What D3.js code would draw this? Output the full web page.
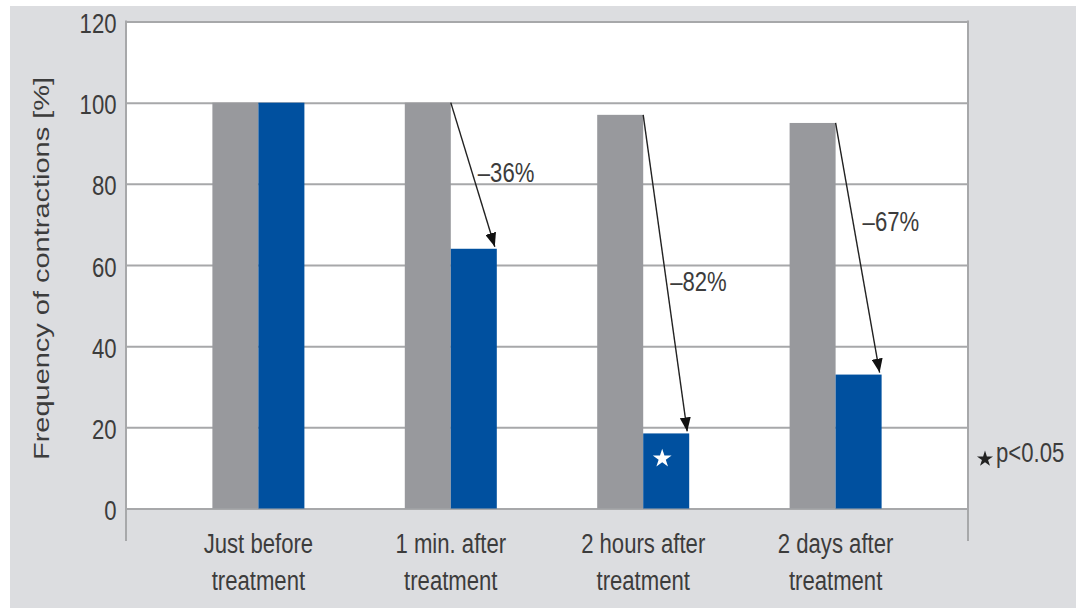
<!DOCTYPE html>
<html>
<head>
<meta charset="utf-8">
<script src="https://cdn.jsdelivr.net/npm/d3@7"></script>
<style>
  html, body { margin: 0; padding: 0; background: #ffffff; }
  svg { display: block; }
  text { font-family: "Liberation Sans", Arial, Helvetica, sans-serif; fill: #3c3c3c; }
</style>
</head>
<body>
<svg id="chart" width="1076" height="608"></svg>
<script>
// ---------------- data ----------------
const categories = ["Just before treatment", "1 min. after treatment", "2 hours after treatment", "2 days after treatment"];
const categoryLines = [["Just before", "treatment"], ["1 min. after", "treatment"], ["2 hours after", "treatment"], ["2 days after", "treatment"]];
const seriesKeys = ["reference", "treated"];
const referenceValues = [100, 100, 97, 95];
const treatedValues = [100, 64, 18.5, 33];
const yTicks = [0, 20, 40, 60, 80, 100, 120];
const yTitle = "Frequency of contractions [%]";
const changeLabels = ["", "–36%", "–82%", "–67%"];
const changeLabelValues = [null, 80.5, 53.5, 68.5];
const significant = [false, false, true, false];
const noteText = "p<0.05";

// ---------------- layout ----------------
const W = 1076, H = 608;
const plot = { left: 126, right: 968, top: 21.5, bottom: 508.5 };
const colors = { reference: "#98999d", treated: "#00509f" };
const gridColor = "#a7a8aa";
const textSX = 0.79;

const svg = d3.select("#chart");

// background panel
svg.append("rect").attr("x", 10).attr("y", 6).attr("width", W - 10).attr("height", H - 6).attr("fill", "#dcdde0");
svg.append("rect").attr("x", plot.left).attr("y", plot.top)
  .attr("width", plot.right - plot.left).attr("height", plot.bottom - plot.top).attr("fill", "#ffffff");

const y = d3.scaleLinear().domain([0, 120]).range([plot.bottom, plot.top]);
const x0 = d3.scaleBand().domain(categories).range([plot.left, plot.right])
  .paddingInner(0.5218).paddingOuter(0.449);
const x1 = d3.scaleBand().domain(seriesKeys).range([0, x0.bandwidth()]).padding(0);

// gridlines via axis
const grid = svg.append("g").attr("transform", `translate(${plot.left},0)`)
  .call(d3.axisLeft(y).tickValues(yTicks).tickSize(-(plot.right - plot.left)).tickFormat(""));
grid.select(".domain").remove();
grid.selectAll("line").attr("stroke", gridColor).attr("stroke-width", 2);

// vertical frame lines (extend below zero)
[plot.left, plot.right].forEach(xx => {
  svg.append("line").attr("x1", xx).attr("x2", xx).attr("y1", plot.top - 1).attr("y2", 541)
    .attr("stroke", gridColor).attr("stroke-width", 2);
});

// y tick labels
const yAxis = svg.append("g").attr("transform", `translate(${plot.left},0)`)
  .call(d3.axisLeft(y).tickValues(yTicks).tickSize(0).tickPadding(0));
yAxis.select(".domain").remove();
yAxis.selectAll("text")
  .attr("x", null).attr("dy", "0.36em")
  .attr("transform", `translate(-9.5,1) scale(${textSX},1)`)
  .attr("text-anchor", "end")
  .style("font-size", "28px").style("fill", "#3c3c3c").style("font-family", null);

// bars
const rows = categories.map((c, i) => ({ cat: c, reference: referenceValues[i], treated: treatedValues[i] }));
const groups = svg.append("g").selectAll("g").data(rows).join("g")
  .attr("transform", d => `translate(${x0(d.cat)},0)`);
groups.selectAll("rect").data(d => seriesKeys.map(k => ({ key: k, value: d[k] }))).join("rect")
  .attr("x", d => x1(d.key))
  .attr("width", x1.bandwidth())
  .attr("y", d => y(d.value))
  .attr("height", d => y(0) - y(d.value))
  .attr("fill", d => colors[d.key]);

// x category labels
const xAxis = svg.append("g").attr("transform", `translate(0,${plot.bottom})`)
  .call(d3.axisBottom(x0).tickSize(0).tickFormat(""));
xAxis.select(".domain").remove();
const catText = svg.append("g").selectAll("text").data(categories).join("text")
  .attr("transform", d => `translate(${x0(d) + x0.bandwidth() / 2},0) scale(${textSX},1)`)
  .attr("text-anchor", "middle")
  .style("font-size", "28px");
catText.each(function (d, i) {
  const t = d3.select(this);
  categoryLines[i].forEach((line, j) => {
    t.append("tspan").attr("x", 0).attr("y", 553 + j * 37).text(line);
  });
});

// y title
svg.append("text")
  .attr("transform", `translate(49,268.5) rotate(-90)`)
  .attr("text-anchor", "middle")
  .attr("textLength", 383)
  .attr("lengthAdjust", "spacingAndGlyphs")
  .style("font-size", "22px")
  .text(yTitle);

// arrows
const defs = svg.append("defs");
defs.append("marker").attr("id", "arrowhead")
  .attr("viewBox", "0 0 14 11").attr("refX", 14).attr("refY", 5.5)
  .attr("markerWidth", 14).attr("markerHeight", 11).attr("markerUnits", "userSpaceOnUse")
  .attr("orient", "auto")
  .append("path").attr("d", "M0,0 L14,5.5 L0,11 Z").attr("fill", "#111");

const ann = svg.append("g");
categories.forEach((c, i) => {
  if (!changeLabels[i]) return;
  const xs = x0(c) + x1("reference") + x1.bandwidth();
  const xe = x0(c) + x1("treated") + x1.bandwidth() - 2;
  ann.append("line")
    .attr("x1", xs).attr("y1", y(referenceValues[i]))
    .attr("x2", xe).attr("y2", y(treatedValues[i]) - 2)
    .attr("stroke", "#222").attr("stroke-width", 1.4)
    .attr("marker-end", "url(#arrowhead)");
  ann.append("text")
    .attr("transform", `translate(${xs + 27},${y(changeLabelValues[i])}) scale(${textSX},1)`)
    .style("font-size", "28px")
    .text(changeLabels[i]);
});

// significance stars
const starPath = d3.symbol().type(d3.symbolStar);
categories.forEach((c, i) => {
  if (!significant[i]) return;
  const cx = x0(c) + x1("treated") + x1.bandwidth() / 2 - 4;
  svg.append("path").attr("d", starPath.size(110)())
    .attr("transform", `translate(${cx},${y(12.3)})`)
    .attr("fill", "#ffffff");
});

// note
svg.append("path").attr("d", starPath.size(80)())
  .attr("transform", `translate(985,459)`).attr("fill", "#222");
svg.append("text")
  .attr("transform", `translate(996,462) scale(${textSX},1)`)
  .style("font-size", "28px")
  .text(noteText);
</script>
</body>
</html>
